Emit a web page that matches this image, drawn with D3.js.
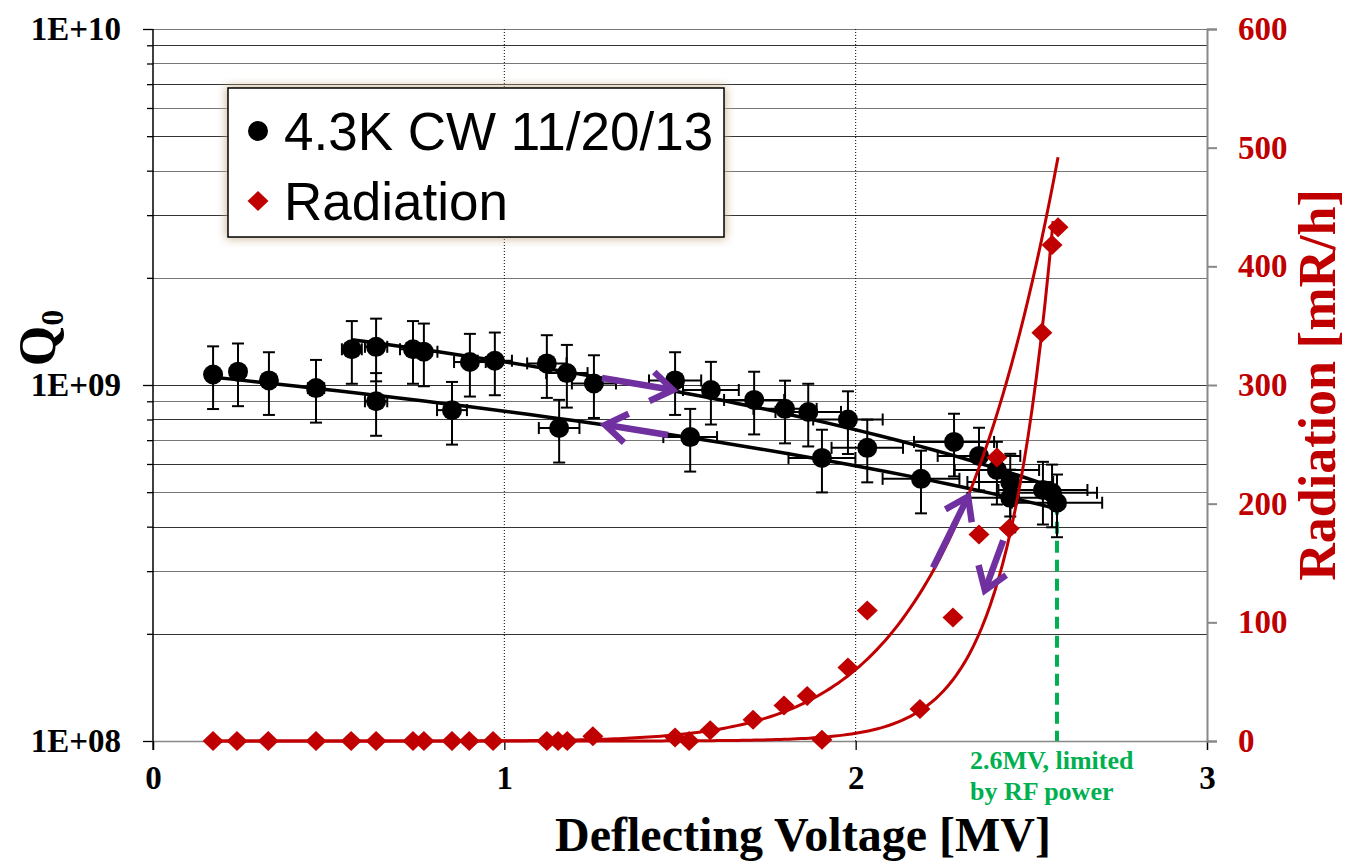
<!DOCTYPE html>
<html>
<head>
<meta charset="utf-8">
<script src="https://cdn.jsdelivr.net/npm/d3@7"></script>
<style>
  body { margin: 0; background: #fff; }
  text { font-family: "Liberation Serif", "Times New Roman", serif; font-weight: bold; }
</style>
</head>
<body>
<svg id="chart" width="1345" height="863"></svg>
<script>
// Q0 measurements, ramp with higher Q (upper line)
let qUpV = [0.566, 0.635, 0.740, 0.771, 0.902, 0.973, 1.121, 1.178, 1.255, 1.486, 1.588, 1.711, 1.799, 1.865, 1.978, 2.280, 2.351, 2.402, 2.533, 2.559];
let qUpQ = [1.26e9, 1.28e9, 1.26e9, 1.24e9, 1.16e9, 1.17e9, 1.15e9, 1.08e9, 1.01e9, 1.03e9, 0.968e9, 0.908e9, 0.857e9, 0.84e9, 0.80e9, 0.692e9, 0.632e9, 0.577e9, 0.507e9, 0.498e9];
// Q0 measurements, lower line
let qDownV = [0.171, 0.242, 0.330, 0.464, 0.635, 0.851, 1.156, 1.529, 1.904, 2.033, 2.186, 2.440, 2.440, 2.573];
let qDownQ = [1.07e9, 1.09e9, 1.03e9, 0.98e9, 0.90e9, 0.85e9, 0.757e9, 0.714e9, 0.624e9, 0.666e9, 0.545e9, 0.534e9, 0.482e9, 0.467e9];
// relative error bars
let qErr = 0.20, vErr = 0.05;

// radiation [mR/h]
let radV = [0.171, 0.239, 0.328, 0.464, 0.564, 0.635, 0.740, 0.771, 0.851, 0.900, 0.968, 1.121, 1.153, 1.179, 1.252, 1.486, 1.526, 1.586, 1.708, 1.796, 1.862, 1.904, 1.978, 2.033, 2.183, 2.277, 2.351, 2.402, 2.437, 2.530, 2.559, 2.576];
let radR = [0, 0, 0, 0, 0, 0, 0, 0, 0, 0, 0, 0, 0, 0, 4, 3, 0, 9, 18, 30, 38, 1, 62, 110, 27, 104, 174, 239, 179, 344, 418, 433];

// trendlines
let qUpFit = {a: 1.5745e9, b: -0.413e9, from: 0.566, to: 2.573};   // Q = a + bV
let qDownFit = {a: 1.095e9, b: -0.251e9, from: 0.171, to: 2.573};
let radFitA = {a: 0.191, n: 8.3, from: 0.171, to: 2.576};           // R = a V^n
let radFitB = {a: 1.98e-6, k: 7.5, from: 0.171, to: 2.562};         // R = a e^(kV)

// axis ticks
let xTicks = [0, 1, 2, 3];
let qMajor = [1e8, 1e9, 1e10];
let qMajorLabels = ["1E+08", "1E+09", "1E+10"];
let radTicks = [0, 100, 200, 300, 400, 500, 600];

// annotations
let limitV = 2.573;
let limitText = ["2.6MV, limited", "by RF power"];
let legendLabels = ["4.3K CW 11/20/13", "Radiation"];
// purple arrows [V1, y1, V2, y2], Q axis for the first two, radiation axis for the rest
let arrowsQ = [[1.278, 1.046e9, 1.480, 0.968e9], [1.466, 0.724e9, 1.287, 0.773e9]];
let arrowsR = [[2.220, 146, 2.320, 206], [2.420, 169, 2.368, 127]];

const RED = "#C00000", PURPLE = "#7030A0", GREEN = "#00B050";

let svg = d3.select("#chart"),
    mLeft = 153, mRight = 1207, mTop = 29, mBottom = 741;

let x = d3.scaleLinear().domain([0, 3]).range([mLeft, mRight]);
let y = d3.scaleLog().domain([1e8, 1e10]).range([mBottom, mTop]);
let yR = d3.scaleLinear().domain([0, 600]).range([mBottom, mTop]);

// minor log values
let qMinor = [];
[1e8, 1e9].forEach(d => { for (let m = 1; m < 10; m++) qMinor.push(d * m); });
qMinor.push(1e10);

// horizontal gridlines
svg.append("g").selectAll("line").data(qMinor.filter(d => d > 1e8)).enter().append("line")
    .attr("x1", mLeft).attr("x2", mRight)
    .attr("y1", d => Math.round(y(d)) + 0.5).attr("y2", d => Math.round(y(d)) + 0.5)
    .attr("stroke", (d, i) => i % 2 ? "#777" : "#333").attr("stroke-width", 1.2);

// vertical dotted gridlines
svg.append("g").selectAll("line").data([1, 2]).enter().append("line")
    .attr("x1", d => x(d)).attr("x2", d => x(d))
    .attr("y1", mTop).attr("y2", mBottom)
    .attr("stroke", "#000").attr("stroke-width", 1).attr("stroke-dasharray", "1,2");

// left axis
let axL = svg.append("g").attr("transform", `translate(${mLeft},0)`)
    .call(d3.axisLeft(y).tickValues(qMinor).tickSize(6).tickPadding(26)
        .tickFormat(d => { let i = qMajor.indexOf(d); return i < 0 ? "" : qMajorLabels[i]; }));
axL.select(".domain").remove();
axL.selectAll(".tick line").attr("x2", d => qMajor.includes(d) ? -10 : -6).attr("stroke", "#000").attr("stroke-width", 1.3);
axL.selectAll(".tick text").attr("font-size", 33).attr("fill", "#000");
svg.append("line").attr("x1", mLeft).attr("x2", mLeft).attr("y1", mTop).attr("y2", mBottom + 9)
    .attr("stroke", "#000").attr("stroke-width", 1.5);

// bottom axis
let axB = svg.append("g").attr("transform", `translate(0,${mBottom})`)
    .call(d3.axisBottom(x).tickValues(xTicks).tickSize(9).tickPadding(16).tickFormat(d3.format("d")));
axB.select(".domain").attr("stroke", "#888").attr("stroke-width", 1.5);
axB.selectAll(".tick line").attr("stroke", "#000").attr("stroke-width", 1.3);
axB.selectAll(".tick text").attr("font-size", 33).attr("fill", "#000");

// right axis
let axR = svg.append("g").attr("transform", `translate(${mRight},0)`)
    .call(d3.axisRight(yR).tickValues(radTicks).tickSize(10).tickPadding(21));
axR.select(".domain").attr("stroke", "#888").attr("stroke-width", 2);
axR.selectAll(".tick line").attr("stroke", "#888").attr("stroke-width", 2);
axR.selectAll(".tick text").attr("font-size", 33).attr("fill", RED);

// RF power limit
svg.append("line")
    .attr("x1", x(limitV)).attr("x2", x(limitV))
    .attr("y1", y(qDownQ[qDownQ.length - 1])).attr("y2", mBottom)
    .attr("stroke", GREEN).attr("stroke-width", 4).attr("stroke-dasharray", "12,7");
svg.append("g").selectAll("text").data(limitText).enter().append("text")
    .attr("x", 970).attr("y", (d, i) => 769 + i * 31)
    .attr("font-size", 26).attr("fill", GREEN).text(d => d);

// Q data
let qPts = qUpV.map((v, i) => ({v: v, q: qUpQ[i]}))
    .concat(qDownV.map((v, i) => ({v: v, q: qDownQ[i]})));

let eb = svg.append("g").attr("stroke", "#000").attr("stroke-width", 2);
qPts.forEach(p => {
    let cx = x(p.v), cy = y(p.q),
        yt = y(p.q * (1 + qErr)), yb = y(p.q * (1 - qErr)),
        xl = x(p.v * (1 - vErr)), xr = x(p.v * (1 + vErr));
    eb.append("line").attr("x1", cx).attr("x2", cx).attr("y1", yt).attr("y2", yb);
    eb.append("line").attr("x1", cx - 6).attr("x2", cx + 6).attr("y1", yt).attr("y2", yt);
    eb.append("line").attr("x1", cx - 6).attr("x2", cx + 6).attr("y1", yb).attr("y2", yb);
    eb.append("line").attr("x1", xl).attr("x2", xr).attr("y1", cy).attr("y2", cy);
    eb.append("line").attr("x1", xl).attr("x2", xl).attr("y1", cy - 6).attr("y2", cy + 6);
    eb.append("line").attr("x1", xr).attr("x2", xr).attr("y1", cy - 6).attr("y2", cy + 6);
});

let line = d3.line().x(d => x(d[0])).y(d => y(d[1]));
[qUpFit, qDownFit].forEach(f => {
    let pts = d3.range(0, 41).map(i => {
        let v = f.from + (f.to - f.from) * i / 40;
        return [v, f.a + f.b * v];
    });
    svg.append("path").attr("d", line(pts)).attr("fill", "none")
        .attr("stroke", "#000").attr("stroke-width", 3.5);
});

svg.append("g").selectAll("circle").data(qPts).enter().append("circle")
    .attr("cx", d => x(d.v)).attr("cy", d => y(d.q)).attr("r", 10).attr("fill", "#000");

// radiation trendlines
let lineR = d3.line().x(d => x(d[0])).y(d => yR(d[1]));
let fitA = d3.range(0, 201).map(i => {
    let v = radFitA.from + (radFitA.to - radFitA.from) * i / 200;
    return [v, radFitA.a * Math.pow(v, radFitA.n)];
});
let fitB = d3.range(0, 201).map(i => {
    let v = radFitB.from + (radFitB.to - radFitB.from) * i / 200;
    return [v, radFitB.a * Math.exp(radFitB.k * v)];
});
[fitA, fitB].forEach(pts => {
    svg.append("path").attr("d", lineR(pts)).attr("fill", "none")
        .attr("stroke", RED).attr("stroke-width", 3);
});

// diamonds
const diamond = (hw, hh) => `M0,${-hh}L${hw},0L0,${hh}L${-hw},0Z`;
svg.append("g").selectAll("path").data(radV).enter().append("path")
    .attr("d", diamond(10.5, 10))
    .attr("transform", (d, i) => `translate(${x(d)},${yR(radR[i])})`)
    .attr("fill", RED);

// purple arrows
function arrow(x1, y1, x2, y2) {
    let a = Math.atan2(y2 - y1, x2 - x1), L = 26, s = 0.6;
    let w1 = [x2 - L * Math.cos(a - s), y2 - L * Math.sin(a - s)],
        w2 = [x2 - L * Math.cos(a + s), y2 - L * Math.sin(a + s)];
    let g = svg.append("g").attr("stroke", PURPLE).attr("stroke-width", 6.5).attr("fill", "none");
    g.append("line").attr("x1", x1).attr("y1", y1).attr("x2", x2 - 3 * Math.cos(a)).attr("y2", y2 - 3 * Math.sin(a));
    g.append("path").attr("d", `M${w1}L${x2},${y2}L${w2}`).attr("stroke-linejoin", "miter");
}
arrowsQ.forEach(a => arrow(x(a[0]), y(a[1]), x(a[2]), y(a[3])));
arrowsR.forEach(a => arrow(x(a[0]), yR(a[1]), x(a[2]), yR(a[3])));

// legend
let defs = svg.append("defs");
defs.append("filter").attr("id", "glow").attr("x", "-10%").attr("y", "-20%").attr("width", "120%").attr("height", "140%")
    .append("feGaussianBlur").attr("stdDeviation", 5);
svg.append("rect").attr("x", 226).attr("y", 86).attr("width", 500).attr("height", 153)
    .attr("fill", "#c8b08a").attr("opacity", 0.85).attr("filter", "url(#glow)");
svg.append("rect").attr("x", 228).attr("y", 88).attr("width", 496).attr("height", 149)
    .attr("fill", "#fff").attr("stroke", "#000").attr("stroke-width", 1.5);
svg.append("circle").attr("cx", 258).attr("cy", 131).attr("r", 10).attr("fill", "#000");
svg.append("path").attr("d", diamond(10.5, 10)).attr("transform", "translate(258,201)").attr("fill", RED);
svg.append("g").selectAll("text").data(legendLabels).enter().append("text")
    .attr("x", 284).attr("y", (d, i) => 150 + i * 70)
    .style("font-family", "'Liberation Sans', Arial, sans-serif").style("font-weight", "normal")
    .attr("font-size", 53).attr("fill", "#000").text(d => d);

// axis titles
svg.append("text").attr("x", 803).attr("y", 851).attr("text-anchor", "middle")
    .attr("font-size", 48).attr("fill", "#000").text("Deflecting Voltage [MV]");

let qt = svg.append("text").attr("transform", "translate(55,338) rotate(-90)")
    .attr("text-anchor", "middle").attr("font-size", 52).attr("fill", "#000");
qt.append("tspan").text("Q");
qt.append("tspan").attr("font-size", 32).attr("dy", 8).text("0");

svg.append("text").attr("transform", "translate(1335,385) rotate(-90)")
    .attr("text-anchor", "middle").attr("font-size", 52).attr("fill", RED).text("Radiation [mR/h]");
</script>
</body>
</html>
